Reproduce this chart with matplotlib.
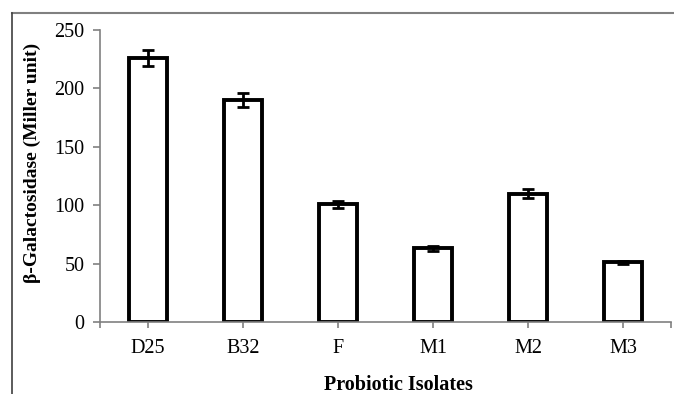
import matplotlib
matplotlib.use("Agg")
import matplotlib.pyplot as plt
from matplotlib.lines import Line2D

categories = ["D25", "B32", "F", "M1", "M2", "M3"]
values = [226, 190, 101, 63, 110, 51]
errors = [7, 6, 3, 2, 4, 1.5]

plt.rcParams['font.family'] = ['Liberation Serif', 'DejaVu Serif']

fig = plt.figure(figsize=(6.74, 3.94), dpi=100)
W, H = 674, 394
ax = fig.add_axes([100 / W, 1 - 322 / H, (671 - 100) / W, (322 - 30) / H])

x = list(range(len(categories)))
ax.bar(x, values, width=0.4, color="white", edgecolor="black", linewidth=2.8, zorder=2)
ax.errorbar(x, values, yerr=errors, fmt="none", ecolor="black", elinewidth=2,
            capsize=4, capthick=2, zorder=3)

ax.set_xlim(-0.5, len(categories) - 0.5)
ax.set_ylim(0, 250)
ax.set_yticks([0, 50, 100, 150, 200, 250])
ax.set_xticks(x)
ax.set_xticklabels(categories)
ax.set_xticks([-0.5, len(categories) - 0.5], minor=True)

for s in ["top", "right"]:
    ax.spines[s].set_visible(False)
for s in ["left", "bottom"]:
    ax.spines[s].set_color("#808080")
    ax.spines[s].set_linewidth(1.2)

ax.tick_params(axis="y", direction="out", length=5, width=1.2, color="#808080",
               labelsize=14.5, pad=6)
ax.tick_params(axis="x", which="both", direction="out", length=4, width=1.2,
               color="#808080", labelsize=14.5, pad=8)

ax.set_xlabel("Probiotic Isolates", fontsize=14.5, fontweight="bold")
ax.set_ylabel("β-Galactosidase (Miller unit)", fontsize=14, fontweight="bold")
ax.xaxis.set_label_coords(0.522, -0.18)
ax.yaxis.set_label_coords(-0.103, 0.545)

# outer frame (top and left)
fig.add_artist(Line2D([12 / W, 1], [1 - 13 / H, 1 - 13 / H], transform=fig.transFigure,
                      color="#808080", linewidth=1.5))
fig.add_artist(Line2D([12 / W, 12 / W], [0, 1 - 13 / H], transform=fig.transFigure,
                      color="#404040", linewidth=1.2))

fig.savefig("out.png", dpi=100)
